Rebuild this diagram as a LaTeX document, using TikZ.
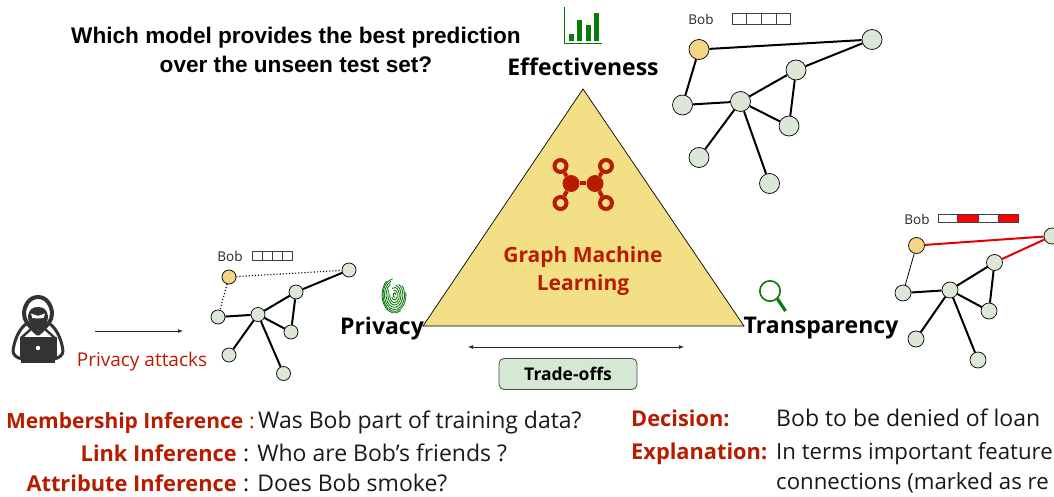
\documentclass[tikz,border=0pt]{standalone}
\usepackage{fontspec}
\setmainfont{Liberation Sans}
\newfontfamily\pn[Ligatures=NoCommon]{Open Sans}
\usetikzlibrary{arrows.meta}
\definecolor{nodegreen}{HTML}{DCE7D8}
\definecolor{bobyellow}{HTML}{F3D586}
\definecolor{triyellow}{HTML}{F3E086}
\definecolor{redt}{HTML}{B81C00}
\definecolor{icong}{HTML}{0A7A0A}
\definecolor{hack}{HTML}{333333}
\definecolor{tradebox}{HTML}{D5E8D4}
\tikzset{
  gn/.style={circle,draw=black,fill=nodegreen,line width=0.7pt,minimum size=#1,inner sep=0pt},
  by/.style={circle,draw=black,fill=bobyellow,line width=0.7pt,minimum size=#1,inner sep=0pt},
  ed/.style={line width=2pt,black},
  edthin/.style={line width=0.8pt,black},
  edred/.style={line width=2pt,red!90!black},
  eddot/.style={line width=1.1pt,black,dotted},
  tl/.style={inner sep=0pt,font=\pn\fontsize{23}{27}\selectfont\bfseries,text=black},
  qu/.style={inner sep=0pt,font=\fontsize{22.6}{26}\selectfont\bfseries,text=black},
  rb/.style={inner sep=0pt,anchor=base east,font=\pn\fontsize{21.8}{25}\selectfont\bfseries,text=redt},
  rbw/.style={inner sep=0pt,anchor=base west,font=\pn\fontsize{21.8}{25}\selectfont\bfseries,text=redt},
  bk/.style={inner sep=0pt,anchor=base west,font=\pn\fontsize{23}{25}\selectfont,text=black!90},
  bks/.style={inner sep=0pt,anchor=base west,font=\pn\fontsize{22.2}{25}\selectfont,text=black!90},
  bob/.style={inner sep=0pt,font=\pn\fontsize{13.5}{16}\selectfont,text=black!85},
  feat/.style={draw=black!75,line width=0.6pt},
  gico/.style={circle,draw=redt,fill=none,line width=4pt,minimum size=12pt,inner sep=0pt},
  gicob/.style={circle,fill=redt,minimum size=17pt,inner sep=0pt},
  gicoe/.style={redt,line width=4pt},
  fp/.style={icong,line width=0.85pt},
  hk/.style={hack,line cap=round,line join=round}
}
\begin{document}
\begin{tikzpicture}[x=1pt,y=-1pt]
\clip (0,0) rectangle (1054,497);
\fill[white] (0,0) rectangle (1054,497);

% title
\node[qu] (q1) at (296,38) {Which model provides the best prediction};
\node[qu] (q2) at (296,64) {over the unseen test set?};
\node[tl] (eff) at (583,66.5) {Effectiveness};
\node[tl] (pri) at (382,329) {Privacy};
\node[tl] (tra) at (821,328) {Transparency};

% triangle
\draw[black,fill=triyellow,line width=0.7pt] (583,89) -- (744,326) -- (423,326) -- cycle;
\node[inner sep=0pt,align=center,font=\pn\fontsize{21}{28}\selectfont\bfseries,text=redt] (gml) at (583,271.5) {Graph Machine\\Learning};

% graph icon
\node[gicob] (gA) at (571,183.5) {};
\node[gicob] (gB) at (595,183.5) {};
\node[gico] (g1) at (560.5,166) {};
\node[gico] (g2) at (606,166) {};
\node[gico] (g3) at (560.5,203) {};
\node[gico] (g4) at (606,203) {};
\draw[gicoe] (gA) -- (gB);
\draw[gicoe] (gA) -- (g1);
\draw[gicoe] (gA) -- (g3);
\draw[gicoe] (gB) -- (g2);
\draw[gicoe] (gB) -- (g4);

% chart icon
\draw[icong,line width=1pt] (564.5,7) -- (564.5,44) -- (602,44);
\fill[icong] (569,34) rectangle (573.5,41);
\fill[icong] (577,20) rectangle (582,41);
\fill[icong] (586,25) rectangle (590.5,41);
\fill[icong] (594,13) rectangle (599,41);

% magnifier
\draw[icong,line width=1.6pt] (770,291) circle (10.2);
\draw[icong,line width=3.2pt] (777.5,299) -- (785.5,311);

% fingerprint
\begin{scope}[shift={(394.5,295)}]
\foreach \rx/\ry/\s/\e in {
 1.2/2.2/0/300, 3/5/200/470, 4.8/7.6/170/480, 6.6/10/150/440, 8.4/12.4/120/420, 10/14.6/110/400, 11.4/16.5/100/370, 12.4/18/130/300}{
  \draw[fp] (\s:\rx pt and \ry pt) arc[start angle=\s,end angle=\e,x radius=\rx pt,y radius=\ry pt];
}
\end{scope}

% effectiveness graph
\node[bob] (bobE) at (701,19) {Bob};
\draw[feat] (732,13) rectangle (790.5,24);
\draw[feat] (746.6,13) -- (746.6,24) (761.2,13) -- (761.2,24) (775.9,13) -- (775.9,24);
\node[by=20pt] (E0) at (699,49.5) {};
\node[gn=20pt] (E1) at (872,39.5) {};
\node[gn=20pt] (E2) at (796,70) {};
\node[gn=20pt] (E3) at (740.5,101.5) {};
\node[gn=20pt] (E4) at (682.5,105) {};
\node[gn=20pt] (E5) at (789,126) {};
\node[gn=20pt] (E6) at (699,157.5) {};
\node[gn=20pt] (E7) at (769.5,183.5) {};
\draw[ed] (E0) -- (E1);
\draw[ed] (E0) -- (E4);
\draw[ed] (E1) -- (E2);
\draw[ed] (E2) -- (E3);
\draw[ed] (E2) -- (E5);
\draw[ed] (E3) -- (E4);
\draw[ed] (E3) -- (E5);
\draw[ed] (E3) -- (E6);
\draw[ed] (E3) -- (E7);

% privacy graph
\node[bob] (bobP) at (230,256) {Bob};
\draw[feat] (252,251) rectangle (292.5,260);
\draw[feat] (262.1,251) -- (262.1,260) (272.2,251) -- (272.2,260) (282.4,251) -- (282.4,260);
\node[by=14pt] (P0) at (229,277) {};
\node[gn=14pt] (P1) at (349,270) {};
\node[gn=14pt] (P2) at (296,292) {};
\node[gn=14pt] (P3) at (258,314.5) {};
\node[gn=14pt] (P4) at (218,317) {};
\node[gn=14pt] (P5) at (291,332) {};
\node[gn=14pt] (P6) at (229,355) {};
\node[gn=14pt] (P7) at (283.5,373.5) {};
\draw[eddot] (P0) -- (P1);
\draw[eddot] (P0) -- (P4);
\draw[ed] (P1) -- (P2);
\draw[ed] (P2) -- (P3);
\draw[ed] (P2) -- (P5);
\draw[ed] (P3) -- (P4);
\draw[ed] (P3) -- (P5);
\draw[ed] (P3) -- (P6);
\draw[ed] (P3) -- (P7);

% transparency graph
\node[bob] (bobT) at (917,219) {Bob};
\draw[feat,fill=white] (938,214) rectangle (1018.5,222.5);
\draw[feat,fill=red] (957.5,214) rectangle (978,222.5);
\draw[feat,fill=red] (998.5,214) rectangle (1018.5,222.5);
\node[by=16pt] (T0) at (916.5,245.5) {};
\node[gn=16pt] (T1) at (1052,236) {};
\node[gn=16pt] (T2) at (994.5,262.5) {};
\node[gn=16pt] (T3) at (950,290) {};
\node[gn=16pt] (T4) at (903,293) {};
\node[gn=16pt] (T5) at (989,311) {};
\node[gn=16pt] (T6) at (916,339) {};
\node[gn=16pt] (T7) at (978,360) {};
\draw[edred] (T0) -- (T1);
\draw[edthin] (T0) -- (T4);
\draw[edred] (T1) -- (T2);
\draw[ed] (T2) -- (T3);
\draw[ed] (T2) -- (T5);
\draw[ed] (T3) -- (T4);
\draw[ed] (T3) -- (T5);
\draw[ed] (T3) -- (T6);
\draw[ed] (T3) -- (T7);

% hacker
\draw[hk,line width=3pt] (26,324) .. controls (18,330) and (14,342) .. (13,351) .. controls (13,355) and (17,358) .. (22,359);
\draw[hk,line width=3pt] (50,324) .. controls (58,330) and (62,342) .. (63,351) .. controls (63,355) and (59,358) .. (54,359);
\draw[hk,line width=2.4pt] (30,330) -- (21,338) (46,330) -- (55,338);
\draw[hk,line width=4pt] (38,297) .. controls (29,297) and (24,306) .. (24,314) .. controls (24,320) and (28,325) .. (38,334)
  .. controls (48,325) and (52,320) .. (52,314) .. controls (52,306) and (47,297) .. (38,297) -- cycle;
\fill[hack] (38,307) .. controls (32,307) and (29,310) .. (28,316) .. controls (28,324) and (34,330) .. (38,331)
  .. controls (42,330) and (48,324) .. (48,316) .. controls (47,310) and (44,307) .. (38,307) -- cycle;
\fill[white] (31,313.5) -- (37,315.5) -- (39,315.5) -- (45,313.5) -- (43.5,318) -- (38,318.5) -- (32.5,318) -- cycle;
\fill[hack] (19.5,336.5) rectangle (56.5,360);
\fill[hack] (21,360) rectangle (55,363);
\fill[white] (38,348) circle (2.2);
\coordinate (attackStart) at (95,331);
\coordinate (attackEnd) at (183,331);
\draw[-{Latex[length=5pt,width=4pt]},line width=0.7pt,black!85] (attackStart) -- (attackEnd);
\node[inner sep=0pt,anchor=base,font=\pn\fontsize{19}{24}\selectfont,text=redt!90!red] (att) at (142,366) {Privacy attacks};

% trade-offs
\coordinate (tl) at (468,347);
\coordinate (tr) at (684,347);
\draw[{Latex[length=5pt,width=4pt]}-{Latex[length=5pt,width=4pt]},line width=0.7pt,black!85] (tl) -- (tr);
\node[draw=black!70,fill=tradebox,rounded corners=5pt,line width=0.8pt,minimum width=138pt,minimum height=31pt,inner sep=0pt,font=\pn\fontsize{17.5}{20}\selectfont\bfseries] (trade) at (568,374) {Trade-offs};

% bottom text
\node[inner sep=0pt,anchor=base east,font=\pn\fontsize{21}{25}\selectfont\bfseries,text=redt] (m1) at (243.5,428) {Membership Inference};
\node[inner sep=0pt,anchor=base west,font=\pn\fontsize{21}{25}\selectfont,text=redt] (m2) at (249,428) {:};
\node[bk] (m3) at (258,428) {Was Bob part of training data?};
\node[rb] (l1) at (237,461.5) {Link Inference};
\node[bk] (l3) at (243,461.5) {: Who are Bob’s friends ?};
\node[rb] (a1) at (237,491) {Attribute Inference};
\node[bk] (a3) at (243,491) {: Does Bob smoke?};
\node[rbw] (d1) at (631,426) {Decision:};
\node[bk] (d2) at (776,426) {Bob to be denied of loan};
\node[rbw] (x1) at (631,459.5) {Explanation:};
\node[bks] (x2) at (776,459.5) {In terms important feature};
\node[bks] (x3) at (776,489) {connections (marked as re};
\end{tikzpicture}
\end{document}
